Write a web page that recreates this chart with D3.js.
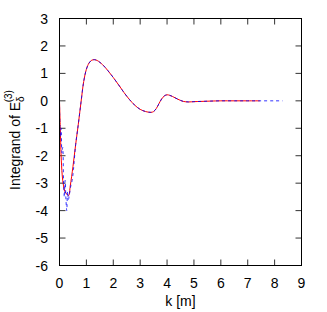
<!DOCTYPE html>
<html><head><meta charset="utf-8">
<script src="https://cdn.jsdelivr.net/npm/d3@7"></script>
<style>body{margin:0;background:#fff}svg{display:block}text{font-family:"Liberation Sans",Arial,sans-serif;font-size:14px;fill:#000}</style>
</head><body>
<svg id="c" width="327" height="312"></svg>
<script>
const xTicks = [0,1,2,3,4,5,6,7,8,9];
const yTicks = [-6,-5,-4,-3,-2,-1,0,1,2,3];
const redK = [0,0.03,0.06,0.1,0.15,0.2,0.27,0.34,0.4,0.5,0.6,0.7,0.8,0.9,1.0,1.1,1.2,1.3,1.4,1.6,1.8,2.0,2.2,2.4,2.6,2.8,3.0,3.2,3.4,3.5,3.6,3.7,3.8,3.9,4.0,4.1,4.2,4.4,4.6,4.8,5.0,5.3,5.6,6.0,6.5,7.0,7.45];
const redV = [0,-1.0,-2.0,-2.7,-3.1,-3.3,-3.4,-3.45,-3.1,-2.4,-1.6,-0.85,-0.05,0.7,1.15,1.38,1.48,1.5,1.47,1.32,1.1,0.85,0.58,0.3,0.05,-0.16,-0.31,-0.39,-0.42,-0.39,-0.28,-0.1,0.07,0.18,0.22,0.2,0.16,0.06,-0.02,-0.04,-0.03,-0.02,-0.01,0,0,0,0];
const blueK = [0,0.03,0.06,0.09,0.12,0.15,0.18,0.21,0.24,0.27,0.3,0.33,0.37,0.42,0.47,0.52,0.6,0.7,0.8,0.9,1.0,1.1,1.2,1.3,1.4,1.6,1.8,2.0,2.2,2.4,2.6,2.8,3.0,3.2,3.4,3.5,3.6,3.7,3.8,3.9,4.0,4.1,4.2,4.4,4.6,4.8,5.0,5.3,5.6,6.0,6.5,7.0,7.5,8.0,8.3];
const blueV = [0,-1.3,-1.0,-1.9,-1.7,-2.9,-3.5,-2.9,-3.6,-4.0,-3.3,-3.6,-3.4,-3.1,-2.9,-2.5,-1.6,-0.85,-0.05,0.7,1.15,1.38,1.48,1.5,1.47,1.32,1.1,0.85,0.58,0.3,0.05,-0.16,-0.31,-0.39,-0.42,-0.39,-0.28,-0.1,0.07,0.18,0.22,0.2,0.16,0.06,-0.02,-0.04,-0.03,-0.02,-0.01,0,0,0,0,0,0];

const svg = d3.select("#c");
const L=59.5, R=301.5, T=18.5, B=265.5;
const x = d3.scaleLinear().domain([0,9]).range([L,R]);
const y = d3.scaleLinear().domain([-6,3]).range([B,T]);

const g = svg.append("g");
// ticks inward, mirrored
const tl = 6;
g.selectAll(".xb").data(xTicks.slice(1,-1)).join("line")
  .attr("x1",d=>x(d)).attr("x2",d=>x(d)).attr("y1",B).attr("y2",B-tl).attr("stroke","#333");
g.selectAll(".xt").data(xTicks.slice(1,-1)).join("line").attr("class","xt")
  .attr("x1",d=>x(d)).attr("x2",d=>x(d)).attr("y1",T).attr("y2",T+tl).attr("stroke","#333");
g.selectAll(".yl").data(yTicks.slice(1,-1)).join("line").attr("class","yl")
  .attr("x1",L).attr("x2",L+tl).attr("y1",d=>y(d)).attr("y2",d=>y(d)).attr("stroke","#333");
g.selectAll(".yr").data(yTicks.slice(1,-1)).join("line").attr("class","yr")
  .attr("x1",R).attr("x2",R-tl).attr("y1",d=>y(d)).attr("y2",d=>y(d)).attr("stroke","#333");

// curves
const lineR = d3.line().x((d,i)=>x(redK[i])).y(d=>y(d)).curve(d3.curveCatmullRom);
const lineB = d3.line().x((d,i)=>x(blueK[i])).y(d=>y(d)).curve(d3.curveCatmullRom);
svg.append("path").attr("d",lineR(redV)).attr("fill","none").attr("stroke","#ff0000").attr("stroke-width",1);
svg.append("path").attr("d",lineB(blueV)).attr("fill","none").attr("stroke","#0000ff").attr("stroke-width",1).attr("stroke-dasharray","3,3").attr("opacity",0.8);

// frame
svg.append("rect").attr("x",L).attr("y",T).attr("width",R-L).attr("height",B-T).attr("fill","none").attr("stroke","#000").attr("stroke-width",1);

// tick labels
svg.selectAll(".xlab").data(xTicks).join("text")
  .attr("x",d=>x(d)).attr("y",288).attr("text-anchor","middle").text(d=>d);
svg.selectAll(".ylab").data(yTicks).join("text")
  .attr("x",48).attr("y",d=>y(d)+5).attr("text-anchor","end").text(d=>d);

svg.append("text").attr("x",(L+R)/2).attr("y",306).attr("text-anchor","middle").text("k [m]");

const yl = svg.append("text").attr("transform","translate(20,140) rotate(-90)").attr("text-anchor","middle");
yl.append("tspan").text("Integrand of E");
yl.append("tspan").attr("dy",4).attr("font-size","10px").text("δ");
yl.append("tspan").attr("dx",-6).attr("dy",-12).attr("font-size","10px").text("(3)");
</script>
</body></html>
